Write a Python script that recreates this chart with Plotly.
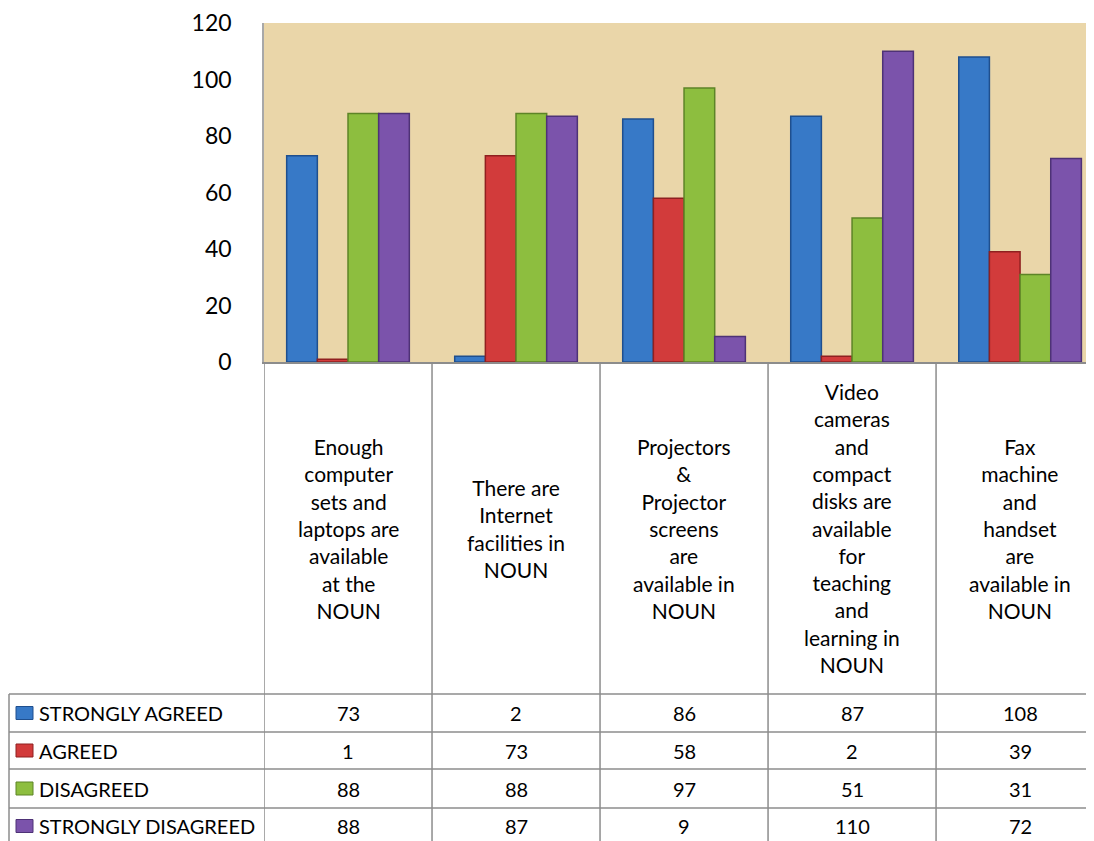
import plotly.graph_objects as go

# ---------------- data ----------------
category_lines = [
    ["Enough", "computer", "sets and", "laptops are", "available", "at the", "NOUN"],
    ["There are", "Internet", "facilities in", "NOUN"],
    ["Projectors", "&", "Projector", "screens", "are", "available in", "NOUN"],
    ["Video", "cameras", "and", "compact", "disks are", "available", "for", "teaching", "and", "learning in", "NOUN"],
    ["Fax", "machine", "and", "handset", "are", "available in", "NOUN"],
]
series_names = ["STRONGLY AGREED", "AGREED", "DISAGREED", "STRONGLY DISAGREED"]
strongly_agreed = [73, 2, 86, 87, 108]
agreed = [1, 73, 58, 2, 39]
disagreed = [88, 88, 97, 51, 31]
strongly_disagreed = [88, 87, 9, 110, 72]
y_ticks = [0, 20, 40, 60, 80, 100, 120]

series_values = [strongly_agreed, agreed, disagreed, strongly_disagreed]
fill_colors = ["#3779C7", "#D23B3B", "#8DBE3F", "#7B53AB"]
edge_colors = ["#1F4F8E", "#8F2020", "#5D8427", "#4E3276"]

# ---------------- layout geometry (page pixels; page body has an 8px margin) ----------------
OFF = 8
W_PX, H_PX = 1094 - OFF, 841 - OFF
L, R, T, B = 264, 1094, 23, 362   # plot area in page pixels
PW, PH = R - L, B - T


def px(x):
    return (x - L) / PW


def py(y):
    return (B - y) / PH


FONT = "Lato, Carlito, Calibri, sans-serif"
GRID = "#8C8C8C"

idx = list(range(len(category_lines)))

fig = go.Figure()
for name, vals, fc, ec in zip(series_names, series_values, fill_colors, edge_colors):
    fig.add_trace(go.Bar(
        x=idx, y=vals, name=name,
        marker=dict(color=fc, line=dict(color=ec, width=1.5)),
        showlegend=False,
    ))

shapes = []
annotations = []

# vertical column separators (below the plot, through the label area and table)
for k in range(len(category_lines) + 1):
    shapes.append(dict(type="line", xref="x", yref="paper",
                       x0=k - 0.5, x1=k - 0.5, y0=0, y1=py(850),
                       line=dict(color=GRID, width=1.5)))

# table horizontal lines
row_lines = [694, 732, 769, 808]
for yl in row_lines:
    shapes.append(dict(type="line", xref="paper", yref="paper",
                       x0=px(9), x1=1.0, y0=py(yl), y1=py(yl),
                       line=dict(color=GRID, width=1.5)))
# table left border
shapes.append(dict(type="line", xref="paper", yref="paper",
                   x0=px(9), x1=px(9), y0=py(694), y1=py(850),
                   line=dict(color=GRID, width=1.5)))

# category labels
for i, lines in enumerate(category_lines):
    annotations.append(dict(
        x=i, xref="x", y=py(528), yref="paper",
        text="<br>".join(lines), showarrow=False,
        xanchor="center", yanchor="middle", align="center",
        font=dict(family=FONT, size=21, color="#000000"),
    ))

# table rows
row_centers = [713, 750.5, 788.5, 826]
for r, (name, vals, fc, ec) in enumerate(zip(series_names, series_values, fill_colors, edge_colors)):
    yc = row_centers[r]
    shapes.append(dict(type="rect", xref="paper", yref="paper",
                       x0=px(16), x1=px(33), y0=py(yc - 6.5), y1=py(yc + 6.5),
                       fillcolor=fc, line=dict(color=ec, width=1)))
    annotations.append(dict(
        x=px(37), xref="paper", y=py(yc), yref="paper",
        text=name, showarrow=False, xanchor="left", yanchor="middle",
        font=dict(family=FONT, size=20, color="#000000"),
    ))
    for i, v in enumerate(vals):
        annotations.append(dict(
            x=i, xref="x", y=py(yc), yref="paper",
            text=str(v), showarrow=False, xanchor="center", yanchor="middle",
            font=dict(family=FONT, size=20, color="#000000"),
        ))

fig.update_layout(
    width=W_PX, height=H_PX,
    margin=dict(l=L - OFF, r=(1094 - R), t=T - OFF, b=841 - B, pad=0),
    paper_bgcolor="#FFFFFF",
    plot_bgcolor="#EAD6A9",
    barmode="group", bargap=0.27, bargroupgap=0.0,
    font=dict(family=FONT, color="#000000"),
    shapes=shapes, annotations=annotations,
)
fig.update_xaxes(range=[-0.5, 4.44], showticklabels=False, showgrid=False,
                 zeroline=False, showline=True, linecolor=GRID, linewidth=2,
                 ticks="")
fig.update_yaxes(range=[0, 120], tickvals=y_ticks, showgrid=False, zeroline=False,
                 showline=True, linecolor="#A8A8A8", linewidth=1.5, ticks="",
                 ticklabelstandoff=26,
                 tickfont=dict(family=FONT, size=23, color="#000000"))

fig.write_html("out.html")
